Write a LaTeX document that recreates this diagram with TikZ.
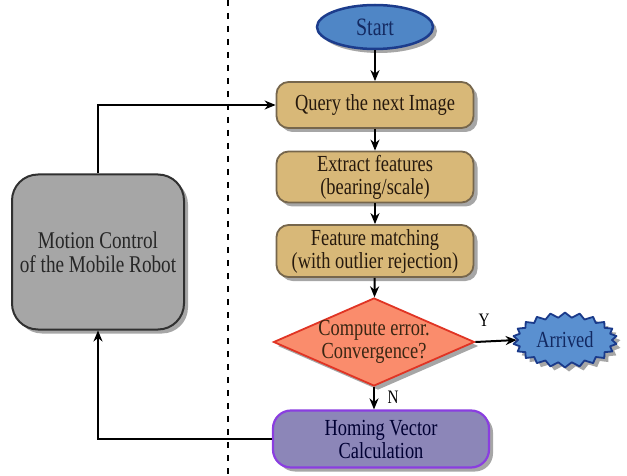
\documentclass[tikz,border=0pt]{standalone}
\usepackage{fontspec}
\usepackage{graphicx}
\newfontfamily\tms{Liberation Serif}[Ligatures=TeX]
\usetikzlibrary{shapes.geometric,shapes.symbols,shadows,arrows.meta,calc}
\newcommand{\sqz}[1]{\scalebox{0.8}[1]{\tms #1}}
\definecolor{startfill}{HTML}{4F86C6}
\definecolor{startdraw}{HTML}{1C3C8C}
\definecolor{tanfill}{HTML}{D8B878}
\definecolor{tandraw}{HTML}{76664C}
\definecolor{decfill}{HTML}{FA8C6C}
\definecolor{decdraw}{HTML}{E03424}
\definecolor{homfill}{HTML}{8C86B8}
\definecolor{homdraw}{HTML}{8A3EE0}
\definecolor{arrfill}{HTML}{5A90D0}
\definecolor{arrdraw}{HTML}{1A3A8A}
\definecolor{mcfill}{HTML}{A6A6A6}
\definecolor{mcdraw}{HTML}{303030}
\tikzset{
  shad/.style={drop shadow={shadow xshift=4pt,shadow yshift=-4pt,fill=black,opacity=0.35}},
  txt/.style={font=\tms\fontsize{23}{23}\selectfont,align=center,inner sep=0pt},
  startnode/.style={ellipse,shad,txt,fill=startfill,draw=startdraw,line width=2.5pt,text=startdraw!70!black,minimum width=116pt,minimum height=44pt},
  tanbox/.style={rectangle,rounded corners=12pt,shad,txt,fill=tanfill,draw=tandraw,line width=1.8pt,text=black!80!brown,minimum width=197pt},
  decnode/.style={diamond,shad,inner sep=0pt,fill=decfill,draw=decdraw,line width=1.8pt,minimum width=201pt,minimum height=88pt},
  homnode/.style={rectangle,rounded corners=18pt,shad,txt,fill=homfill,draw=homdraw,line width=2.2pt,text=black!80!blue,minimum width=216pt,minimum height=57pt},
  arrnode/.style={starburst,starburst points=22,starburst point height=5pt,random starburst=0,line join=round,shad,txt,fill=arrfill,draw=arrdraw,line width=1.8pt,text=arrdraw!70!black,minimum width=104pt,minimum height=55pt},
  mcnode/.style={rectangle,rounded corners=26pt,shad,txt,fill=mcfill,draw=mcdraw,line width=2pt,text=black!85,minimum width=172pt,minimum height=155pt},
  conn/.style={line width=2pt,-{Stealth[length=11pt,width=9pt]}},
  lbl/.style={font=\tms\fontsize{19}{19}\selectfont,inner sep=0pt}
}
\begin{document}
\begin{tikzpicture}[x=1pt,y=-1pt]
\useasboundingbox (0,0) rectangle (627,476);
\coordinate (dtop) at (228,0);
\coordinate (dbot) at (228,476);
\draw[line width=1.4pt,dash pattern=on 6pt off 7pt] (dtop) -- (dbot);

\node[startnode,font=\tms\fontsize{25}{25}\selectfont] (start) at (375,27) {\sqz{Start}};
\node[tanbox,minimum height=46pt] (query) at (375,105) {\sqz{Query the next Image}};
\node[tanbox,minimum height=51pt] (extract) at (375,177) {\sqz{Extract features}\\\sqz{(bearing/scale)}};
\node[tanbox,minimum height=52pt] (match) at (375,251) {\sqz{Feature matching}\\\sqz{(with outlier rejection)}};
\node[decnode] (dec) at (374,342) {};
\node[txt,text=black!70!brown] (dectext) at (dec) {\sqz{Compute error.}\\\sqz{Convergence?}};
\node[arrnode] (arr) at (565,340) {\sqz{Arrived}};
\node[homnode] (hom) at (381,439) {\sqz{Homing Vector}\\\sqz{Calculation}};
\node[mcnode,font=\tms\fontsize{24}{24}\selectfont] (mc) at (98,252) {\sqz{Motion Control}\\\sqz{of the Mobile Robot}};

\draw[conn] (start) -- (query);
\draw[conn] (query) -- (extract);
\draw[conn] (extract) -- (match);
\draw[conn] (match) -- (dec);
\draw[conn] (dec.east) -- (arr.west);
\draw[conn] (dec.south) -- (dec.south |- hom.north);
\draw[conn] (hom.west) -| (mc.south);
\draw[conn] (mc.north) |- (query.west);

\node[lbl] (ylbl) at (484,320) {\sqz{Y}};
\node[lbl] (nlbl) at (393,397) {\sqz{N}};
\end{tikzpicture}
\end{document}
